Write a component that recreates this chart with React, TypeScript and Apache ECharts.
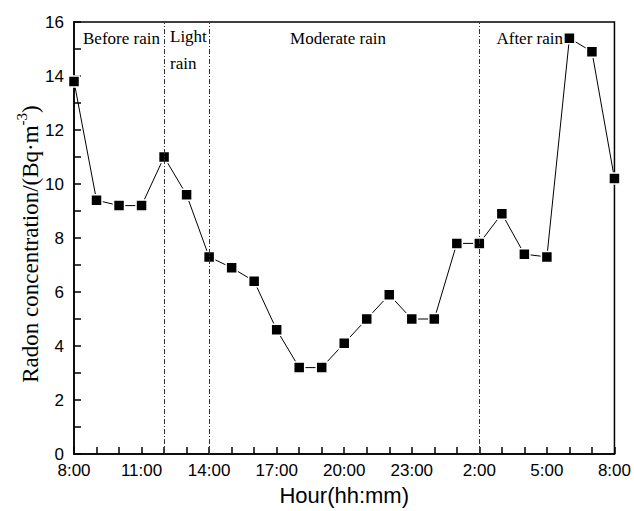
import React, { useEffect, useRef } from "react";
import * as echarts from "echarts";

// Hours after 8:00 (0 = 8:00, 24 = 8:00 next day)
const hours = [0, 1, 2, 3, 4, 5, 6, 7, 8, 9, 10, 11, 12, 13, 14, 15, 16, 17, 18, 19, 20, 21, 22, 23, 24];
const radon = [13.8, 9.4, 9.2, 9.2, 11.0, 9.6, 7.3, 6.9, 6.4, 4.6, 3.2, 3.2, 4.1, 5.0, 5.9, 5.0, 5.0, 7.8, 7.8, 8.9, 7.4, 7.3, 15.4, 14.9, 10.2];
const xTickLabels = ["8:00", "11:00", "14:00", "17:00", "20:00", "23:00", "2:00", "5:00", "8:00"];
const dividerHours = [4, 6, 18];
const regionLabels = ["Before rain", "Light", "rain", "Moderate rain", "After rain"];

const SERIF = "'Liberation Serif', 'Times New Roman', serif";
const SANS = "'Liberation Sans', Arial, sans-serif";

export default function App() {
  const ref = useRef<HTMLDivElement>(null);
  useEffect(() => {
    if (!ref.current) return;
    const chart = echarts.init(ref.current, undefined, { renderer: "svg" });
    const regionPos = [
      [83, 38, "left"],
      [170, 36, "left"],
      [170, 63, "left"],
      [338, 38, "center"],
      [563, 38, "right"],
    ];
    chart.setOption({
      animation: false,
      backgroundColor: "#fff",
      grid: {
        left: 74,
        right: 18,
        top: 22,
        bottom: 54,
        show: true,
        borderColor: "#000",
        borderWidth: 1.5,
        backgroundColor: "transparent",
      },
      xAxis: {
        type: "value",
        min: 0,
        max: 24,
        interval: 3,
        name: "Hour(hh:mm)",
        nameLocation: "middle",
        nameGap: 30,
        nameTextStyle: { fontFamily: SANS, fontSize: 22, color: "#000" },
        axisLine: { show: true, lineStyle: { color: "#000", width: 1.5 } },
        axisTick: { show: true, inside: true, length: 7, lineStyle: { color: "#000", width: 1.5 } },
        minorTick: { show: true, splitNumber: 3, length: 7, lineStyle: { color: "#000", width: 1.5 } },
        splitLine: { show: false },
        axisLabel: {
          fontFamily: SANS,
          fontSize: 17,
          color: "#000",
          margin: 8,
          formatter: (v: number) => xTickLabels[Math.round(v / 3)] ?? "",
        },
      },
      yAxis: {
        type: "value",
        min: 0,
        max: 16,
        interval: 2,
        axisLine: { show: true, lineStyle: { color: "#000", width: 1.5 } },
        axisTick: { show: true, inside: true, length: 7, lineStyle: { color: "#000", width: 1.5 } },
        minorTick: { show: true, splitNumber: 2, length: 7, lineStyle: { color: "#000", width: 1.5 } },
        splitLine: { show: false },
        axisLabel: { fontFamily: SANS, fontSize: 17, color: "#000", margin: 10 },
      },
      graphic: [
        ...regionLabels.map((t, i) => ({
          type: "text",
          x: regionPos[i][0] as number,
          y: regionPos[i][1] as number,
          z: 1,
          style: {
            text: t,
            fontFamily: SERIF,
            fontSize: 17,
            fill: "#000",
            align: regionPos[i][2] as string,
            verticalAlign: "middle",
          },
        })),
        {
          type: "text",
          x: 28,
          y: 244,
          rotation: Math.PI / 2,
          style: {
            text: "{a|Radon concentration/(Bq·m}{s|-3}{a|)}",
            align: "center",
            verticalAlign: "middle",
            rich: {
              a: { fontFamily: SERIF, fontSize: 23, fill: "#000", lineHeight: 27, verticalAlign: "bottom" },
              s: { fontFamily: SERIF, fontSize: 15, fill: "#000", lineHeight: 27, verticalAlign: "top", padding: [0, 0, 6, 0] },
            },
          },
        },
      ],
      series: [
        {
          type: "line",
          data: hours.map((h, i) => [h, radon[i]]),
          symbol: "rect",
          symbolSize: 11,
          clip: true,
          lineStyle: { color: "#000", width: 1 },
          itemStyle: { color: "#000", borderColor: "#fff", borderWidth: 1.5 },
          markLine: {
            silent: true,
            symbol: ["none", "none"],
            label: { show: false },
            lineStyle: { color: "#333", width: 1, type: [5, 2, 1, 2] },
            data: dividerHours.map((h) => [
              { coord: [h, 0] },
              { coord: [h, 16] },
            ]),
          },
          z: 3,
        },
      ],
    });
    return () => chart.dispose();
  }, []);
  return <div ref={ref} style={{ width: 634, height: 511, position: "fixed", left: 0, top: 0 }} />;
}
